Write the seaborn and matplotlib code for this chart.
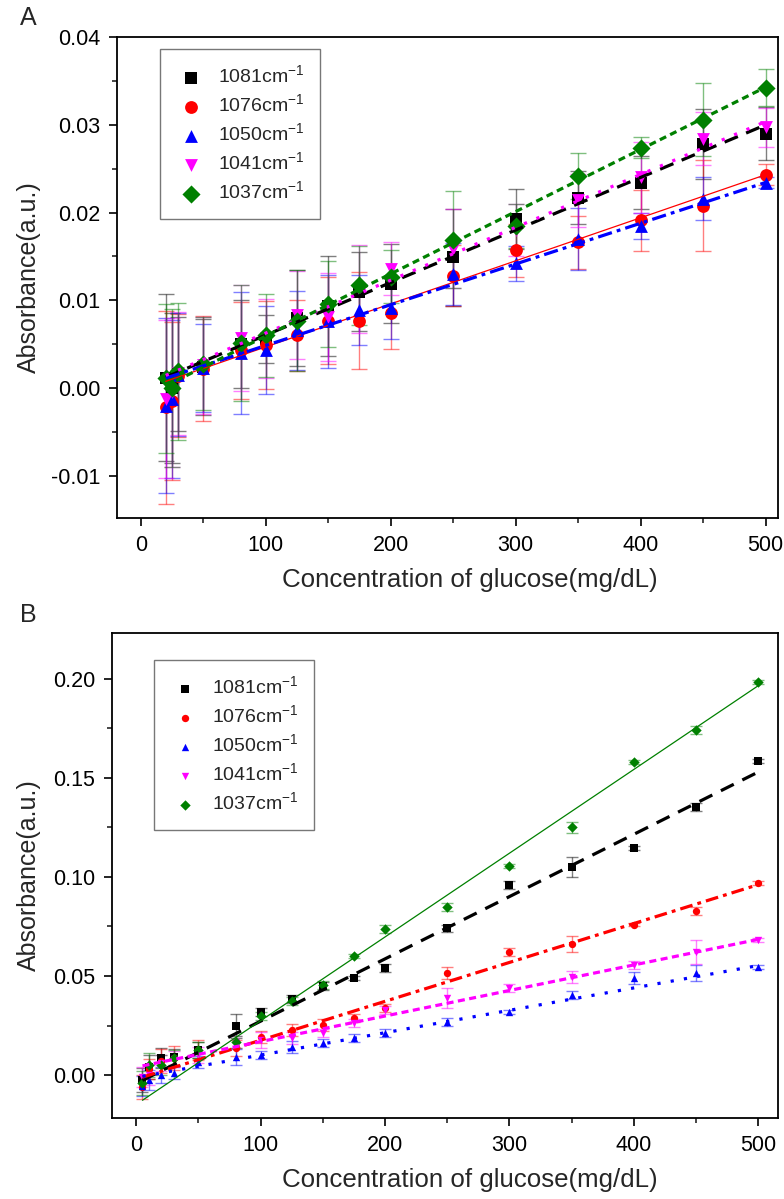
import numpy as np
import pandas as pd
import matplotlib
matplotlib.use("Agg")
import matplotlib.pyplot as plt
import seaborn as sns

sns.set_theme(style="ticks")
plt.rcParams['font.family'] = ['Liberation Sans', 'DejaVu Sans']
plt.rcParams['mathtext.fontset'] = 'custom'
plt.rcParams['mathtext.rm'] = 'Liberation Sans'

# ---------------- data ----------------
labels = ["1081cm$^{-1}$", "1076cm$^{-1}$", "1050cm$^{-1}$", "1041cm$^{-1}$", "1037cm$^{-1}$"]
colors = ["black", "red", "blue", "magenta", "green"]
markers = ["s", "o", "^", "v", "D"]

# Panel A
xA = [20, 25, 30, 50, 80, 100, 125, 150, 175, 200, 250, 300, 350, 400, 450, 500]
yA_1081 = [0.0012, 0.0000, 0.0016, 0.0024, 0.0050, 0.0056, 0.0080, 0.0093, 0.0110, 0.0119, 0.0149, 0.0193, 0.0217, 0.0234, 0.0278, 0.0290]
yA_1076 = [-0.0022, -0.0015, 0.0014, 0.0022, 0.0043, 0.0049, 0.0060, 0.0077, 0.0077, 0.0085, 0.0128, 0.0157, 0.0166, 0.0191, 0.0208, 0.0243]
yA_1050 = [-0.0020, -0.0012, 0.0015, 0.0023, 0.0040, 0.0043, 0.0066, 0.0076, 0.0089, 0.0091, 0.0130, 0.0142, 0.0170, 0.0185, 0.0216, 0.0234]
yA_1041 = [-0.0012, -0.0005, 0.0017, 0.0026, 0.0057, 0.0057, 0.0083, 0.0081, 0.0113, 0.0136, 0.0159, 0.0180, 0.0214, 0.0240, 0.0284, 0.0297]
yA_1037 = [0.0011, 0.0000, 0.0019, 0.0028, 0.0051, 0.0060, 0.0077, 0.0096, 0.0117, 0.0127, 0.0169, 0.0185, 0.0242, 0.0274, 0.0306, 0.0342]
eA_1081 = [0.0095, 0.0085, 0.0065, 0.0055, 0.0050, 0.0027, 0.0055, 0.0057, 0.0045, 0.0045, 0.0055, 0.0034, 0.0030, 0.0030, 0.0040, 0.0030]
eA_1076 = [0.0110, 0.0090, 0.0070, 0.0060, 0.0055, 0.0050, 0.0040, 0.0050, 0.0055, 0.0040, 0.0035, 0.0030, 0.0030, 0.0035, 0.0052, 0.0012]
eA_1050 = [0.0100, 0.0090, 0.0070, 0.0050, 0.0070, 0.0050, 0.0045, 0.0053, 0.0040, 0.0035, 0.0035, 0.0020, 0.0035, 0.0015, 0.0025, 0.0006]
eA_1041 = [0.0090, 0.0085, 0.0070, 0.0055, 0.0060, 0.0045, 0.0050, 0.0050, 0.0050, 0.0030, 0.0045, 0.0030, 0.0030, 0.0040, 0.0030, 0.0022]
eA_1037 = [0.0085, 0.0090, 0.0078, 0.0053, 0.0066, 0.0047, 0.0057, 0.0049, 0.0045, 0.0030, 0.0055, 0.0025, 0.0026, 0.0012, 0.0042, 0.0021]

# Panel B
xB = [5, 10, 20, 30, 50, 80, 100, 125, 150, 175, 200, 250, 300, 350, 400, 450, 500]
yB_1081 = [-0.0025, 0.0042, 0.0085, 0.0090, 0.0126, 0.0247, 0.0320, 0.0385, 0.0450, 0.0490, 0.0540, 0.0740, 0.0960, 0.1050, 0.1146, 0.1355, 0.1585]
yB_1076 = [-0.0060, 0.0030, 0.0070, 0.0085, 0.0126, 0.0136, 0.0194, 0.0229, 0.0252, 0.0288, 0.0340, 0.0515, 0.0623, 0.0660, 0.0760, 0.0830, 0.0968]
yB_1050 = [-0.0055, -0.0025, 0.0000, 0.0010, 0.0067, 0.0093, 0.0101, 0.0140, 0.0163, 0.0187, 0.0210, 0.0268, 0.0320, 0.0404, 0.0490, 0.0515, 0.0547]
yB_1041 = [-0.0010, 0.0000, 0.0060, 0.0080, 0.0101, 0.0168, 0.0178, 0.0187, 0.0214, 0.0263, 0.0330, 0.0390, 0.0440, 0.0497, 0.0556, 0.0623, 0.0680]
yB_1037 = [-0.0040, 0.0050, 0.0050, 0.0085, 0.0126, 0.0168, 0.0300, 0.0372, 0.0455, 0.0600, 0.0737, 0.0850, 0.1055, 0.1250, 0.1580, 0.1740, 0.1985]
eB_1081 = [0.006, 0.006, 0.005, 0.004, 0.004, 0.006, 0.002, 0.002, 0.002, 0.001, 0.002, 0.002, 0.002, 0.005, 0.001, 0.002, 0.001]
eB_1076 = [0.006, 0.005, 0.006, 0.006, 0.005, 0.004, 0.003, 0.003, 0.003, 0.002, 0.002, 0.003, 0.002, 0.004, 0.001, 0.002, 0.001]
eB_1050 = [0.005, 0.005, 0.004, 0.003, 0.003, 0.004, 0.002, 0.003, 0.002, 0.002, 0.002, 0.002, 0.001, 0.002, 0.003, 0.004, 0.001]
eB_1041 = [0.005, 0.005, 0.004, 0.004, 0.004, 0.003, 0.004, 0.003, 0.002, 0.002, 0.002, 0.005, 0.002, 0.003, 0.002, 0.006, 0.001]
eB_1037 = [0.006, 0.006, 0.005, 0.004, 0.004, 0.003, 0.002, 0.002, 0.002, 0.001, 0.002, 0.002, 0.001, 0.003, 0.001, 0.002, 0.001]

yA = [yA_1081, yA_1076, yA_1050, yA_1041, yA_1037]
eA = [eA_1081, eA_1076, eA_1050, eA_1041, eA_1037]
yB = [yB_1081, yB_1076, yB_1050, yB_1041, yB_1037]
eB = [eB_1081, eB_1076, eB_1050, eB_1041, eB_1037]

# fit line styles
styleA = [dict(lw=2.3, ls=(0, (4.5, 2.8))),
          dict(lw=0.9, ls='-'),
          dict(lw=2.3, ls=(0, (4.5, 1.6, 1.2, 1.6))),
          dict(lw=2.3, ls=(0, (1.0, 3.2))),
          dict(lw=2.3, ls=(0, (2.2, 1.4)))]
styleB = [dict(lw=2.3, ls=(0, (4.5, 3.0))),
          dict(lw=2.3, ls=(0, (4.0, 1.6, 1.2, 1.6))),
          dict(lw=2.3, ls=(0, (1.0, 3.2))),
          dict(lw=2.3, ls=(0, (2.2, 1.4))),
          dict(lw=0.9, ls='-')]

W, H = 784, 1199
fig = plt.figure(figsize=(W / 100, H / 100), dpi=100)


def frac(l, t, r, b):
    return [l / W, 1 - b / H, (r - l) / W, (b - t) / H]


axA = fig.add_axes(frac(117, 37, 778, 518))
axB = fig.add_axes(frac(112, 633, 778, 1118))


def draw(ax, x, ys, es, styles, ms, cap, elw):
    xa = np.asarray(x, dtype=float)
    for i in range(5):
        ax.errorbar(x, ys[i], yerr=es[i], fmt='none', ecolor=colors[i], alpha=0.5,
                    elinewidth=elw, capsize=cap, capthick=elw, zorder=2)
    for i in range(5):
        df = pd.DataFrame({"x": x, "y": ys[i]})
        sns.scatterplot(data=df, x="x", y="y", ax=ax, marker=markers[i], color=colors[i],
                        s=ms, edgecolor=colors[i], linewidth=0, label=labels[i], zorder=3)
    for i in range(5):
        # error-weighted linear fit, as in the original analysis
        w = 1.0 / np.asarray(es[i])
        k, b = np.polyfit(xa, np.asarray(ys[i]), 1, w=w)
        fit = pd.DataFrame({"x": xa, "y": k * xa + b})
        sns.lineplot(data=fit, x="x", y="y", ax=ax, color=colors[i],
                     linewidth=styles[i]['lw'], linestyle=styles[i]['ls'],
                     zorder=4, legend=False)


draw(axA, xA, yA, eA, styleA, 85, 5.5, 1.0)
draw(axB, xB, yB, eB, styleB, 28, 4.5, 1.0)

for ax, l, r, t, b in ((axA, 117, 778, 37, 518), (axB, 112, 778, 633, 1118)):
    for s in ax.spines.values():
        s.set_linewidth(1.3)
        s.set_color('black')
    ax.tick_params(axis='both', which='major', direction='out', length=6, width=1.2,
                   labelsize=15.5, top=False, right=False, colors='black', pad=6)
    ax.tick_params(axis='both', which='minor', direction='out', length=3.5, width=1.2,
                   top=False, right=False)
    ax.set_xlabel("Concentration of glucose(mg/dL)", fontsize=18.6)
    ax.set_ylabel("Absorbance(a.u.)", fontsize=18)
    ax.xaxis.set_label_coords((470 - l) / (r - l), -50.0 / (b - t))
    ax.yaxis.set_label_coords((41 - l) / (r - l), 0.5)
    ax.set_xticks([0, 100, 200, 300, 400, 500])
    ax.set_xticks([50, 150, 250, 350, 450], minor=True)

axA.set_xlim(-19, 510)
axA.set_ylim(-0.0148, 0.04)
axA.set_yticks([-0.01, 0.0, 0.01, 0.02, 0.03, 0.04])
axA.set_yticklabels(["-0.01", "0.00", "0.01", "0.02", "0.03", "0.04"])
axA.set_yticks([-0.005, 0.005, 0.015, 0.025, 0.035], minor=True)

axB.set_xlim(-19.5, 516)
axB.set_ylim(-0.0217, 0.2232)
axB.set_yticks([0.0, 0.05, 0.10, 0.15, 0.20])
axB.set_yticklabels(["0.00", "0.05", "0.10", "0.15", "0.20"])
axB.set_yticks([0.025, 0.075, 0.125, 0.175], minor=True)

for ax, anchor in ((axA, (0.065, 0.975)), (axB, (0.063, 0.944))):
    handles, labs = ax.get_legend_handles_labels()
    leg = ax.legend(handles[:5], labs[:5], loc='upper left', bbox_to_anchor=anchor,
                    fontsize=14, frameon=True, fancybox=False, edgecolor='#555555',
                    borderpad=0.8, labelspacing=0.33, handletextpad=0.6, handlelength=1.6,
                    borderaxespad=0.0)
    leg.get_frame().set_linewidth(1.0)

fig.text(20 / W, 1 - 18 / H, "A", fontsize=18, ha='left', va='center')
fig.text(20 / W, 1 - 615 / H, "B", fontsize=18, ha='left', va='center')

fig.savefig("out.png", dpi=100)
